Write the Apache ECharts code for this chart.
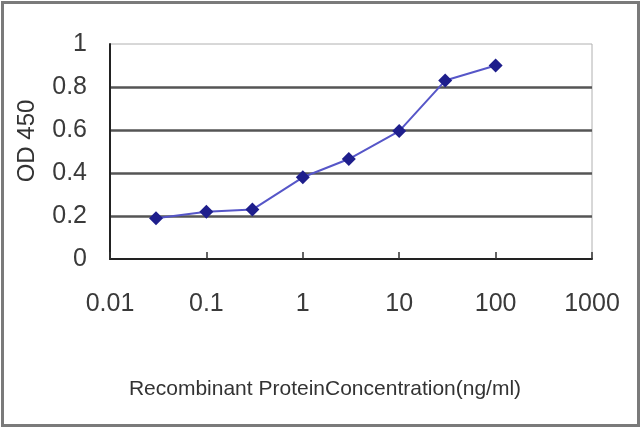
<!DOCTYPE html>
<html>
<head>
<meta charset="utf-8">
<script src="https://cdn.jsdelivr.net/npm/echarts@6/dist/echarts.min.js"></script>
<style>
html,body{margin:0;padding:0;background:#fff;}
#c{width:640px;height:427px;}
</style>
</head>
<body>
<div id="c"></div>
<script>
var concentrations = [0.03, 0.1, 0.3, 1, 3, 10, 30, 100];
var odValues = [0.19, 0.22, 0.23, 0.38, 0.465, 0.595, 0.83, 0.9];
var xTickLabels = ['0.01', '0.1', '1', '10', '100', '1000'];
var yAxisTitle = 'OD 450';
var xAxisTitle = 'Recombinant ProteinConcentration(ng/ml)';

var seriesData = concentrations.map(function (c, i) { return [c, odValues[i]]; });
var font = '"Liberation Sans", Arial, sans-serif';

var chart = echarts.init(document.getElementById('c'), null, {renderer: 'canvas'});
chart.setOption({
  animation: false,
  backgroundColor: '#ffffff',
  grid: {left: 110, right: 48, top: 44, bottom: 168, show: true, borderColor: '#b0b0b0', borderWidth: 1, backgroundColor: 'transparent'},
  xAxis: {
    type: 'log',
    logBase: 10,
    min: 0.01,
    max: 1000,
    name: xAxisTitle,
    nameLocation: 'middle',
    nameGap: 120,
    nameTextStyle: {fontFamily: font, fontSize: 21, color: '#333', padding: [0, 52, 0, 0]},
    axisLine: {show: true, lineStyle: {color: '#222', width: 2}},
    axisTick: {show: true, inside: true, length: 7, lineStyle: {color: '#333', width: 1.5}},
    minorTick: {show: false},
    splitLine: {show: false},
    axisLabel: {
      fontFamily: font, fontSize: 25, color: '#3a3a3a', margin: 33,
      formatter: function (v) {
        var e = Math.round(Math.log10(v)) + 2;
        return xTickLabels[e] !== undefined ? xTickLabels[e] : '';
      }
    }
  },
  yAxis: {
    type: 'value',
    min: 0,
    max: 1,
    interval: 0.2,
    axisLine: {show: true, lineStyle: {color: '#222', width: 2}},
    axisTick: {show: false},
    splitLine: {show: true, showMinLine: false, showMaxLine: false, lineStyle: {color: '#555', width: 2.5}},
    axisLabel: {fontFamily: font, fontSize: 25, color: '#3a3a3a', margin: 23}
  },
  graphic: [
    {type: 'rect', left: 0, top: 0, shape: {x: 1.5, y: 1.5, width: 636, height: 423}, style: {fill: 'none', stroke: '#7a7a7a', lineWidth: 3}, silent: true},
    {type: 'text', x: 27, y: 141, rotation: Math.PI / 2,
      style: {text: yAxisTitle, fontFamily: font, fontSize: 24, fill: '#333', align: 'center', verticalAlign: 'middle'}}
  ],
  series: [{
    type: 'line',
    data: seriesData,
    symbol: 'diamond',
    symbolSize: 14,
    lineStyle: {color: '#5656c8', width: 2},
    itemStyle: {color: '#1e1e8c'},
    z: 5
  }]
});
</script>
</body>
</html>
